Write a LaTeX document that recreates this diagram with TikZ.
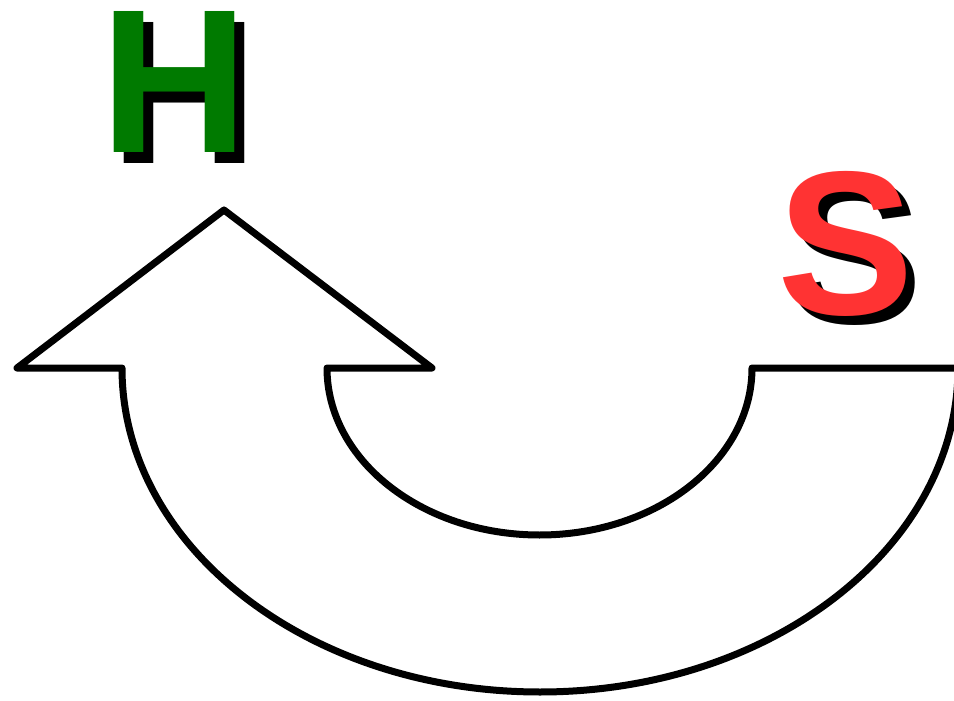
\documentclass[tikz,border=0pt]{standalone}
\usepackage{fontspec}
\setmainfont{Liberation Sans}
\begin{document}
\begin{tikzpicture}[x=1pt,y=-1pt,
  outline/.style={draw=black,line width=7pt,line join=round,fill=white},
  bigletter/.style={inner sep=0pt,anchor=base,font=\fontsize{205}{205}\selectfont\bfseries}]
\useasboundingbox (0,0) rectangle (954,701);
\clip (0,0) rectangle (954,701);
\fill[white] (0,0) rectangle (954,701);
% U-shaped arrow
\draw[outline] (122,368) -- (17,368) -- (224,210) -- (432,368) -- (327,368)
  arc[start angle=180,end angle=360,x radius=212.5,y radius=-167]
  -- (958,368)
  arc[start angle=0,end angle=-180,x radius=418,y radius=-324]
  -- cycle;
% letters with shadows
\node[bigletter,text=black] (hs) at (185,163) {H};
\node[bigletter,text={rgb,255:red,0;green,122;blue,0}] (h) at (175,153) {H};
\node[bigletter,text=black] (ss) at (855,323) {S};
\node[bigletter,text={rgb,255:red,255;green,51;blue,51}] (s) at (846,314) {S};
\end{tikzpicture}
\end{document}
